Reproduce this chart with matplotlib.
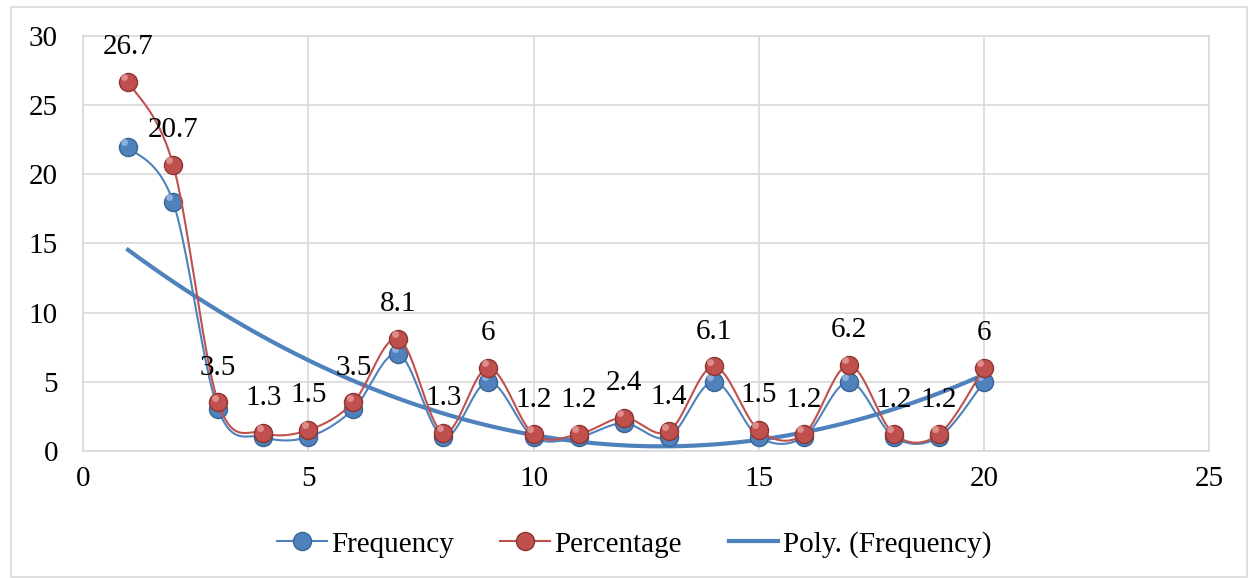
import numpy as np
import matplotlib.pyplot as plt
from matplotlib.patches import Rectangle

x = np.arange(1, 21)
frequency = [22, 18, 3, 1, 1, 3, 7, 1, 5, 1, 1, 2, 1, 5, 1, 1, 5, 1, 1, 5]
percentage = [26.7, 20.7, 3.5, 1.3, 1.5, 3.5, 8.1, 1.3, 6, 1.2, 1.2, 2.4, 1.4,
              6.1, 1.5, 1.2, 6.2, 1.2, 1.2, 6]
pct_labels = ["26.7", "20.7", "3.5", "1.3", "1.5", "3.5", "8.1", "1.3", "6", "1.2",
              "1.2", "2.4", "1.4", "6.1", "1.5", "1.2", "6.2", "1.2", "1.2", "6"]

BLUE = "#4F81BD"
RED = "#C0504D"


def smooth(xs, ys, n=40):
    # bezier smoothing like excel's "smoothed line"
    xs = np.asarray(xs, float)
    ys = np.asarray(ys, float)
    px = np.concatenate([[xs[0]], xs, [xs[-1]]])
    py = np.concatenate([[ys[0]], ys, [ys[-1]]])
    t = np.linspace(0, 1, n)
    outx, outy = [], []
    for i in range(1, len(px) - 2):
        p0x, p0y = px[i], py[i]
        p3x, p3y = px[i + 1], py[i + 1]
        c1x = p0x + (px[i + 1] - px[i - 1]) / 6
        c1y = p0y + (py[i + 1] - py[i - 1]) / 6
        c2x = p3x - (px[i + 2] - px[i]) / 6
        c2y = p3y - (py[i + 2] - py[i]) / 6
        bx = (1 - t) ** 3 * p0x + 3 * (1 - t) ** 2 * t * c1x + 3 * (1 - t) * t ** 2 * c2x + t ** 3 * p3x
        by = (1 - t) ** 3 * p0y + 3 * (1 - t) ** 2 * t * c1y + 3 * (1 - t) * t ** 2 * c2y + t ** 3 * p3y
        outx.extend(bx)
        outy.extend(by)
    return np.array(outx), np.array(outy)


plt.rcParams['font.family'] = ['Liberation Serif', 'DejaVu Serif']
FS = 21

fig = plt.figure(figsize=(12.48, 5.78), dpi=100)
ax = fig.add_axes([0.0665, 0.22, 0.9025, 0.7177])

fig.patches.append(Rectangle((11 / 1248, 1 / 578), 1 - 12 / 1248, 1 - 8 / 578,
                             transform=fig.transFigure, fill=False,
                             edgecolor="#D9D9D9", lw=1.2))

# trendline (2nd order polynomial of frequency)
coef = np.polyfit(x, frequency, 2)
tx = np.linspace(1, 20, 200)
ax.plot(tx, np.polyval(coef, tx), color=BLUE, lw=3, zorder=2,
        label="Poly. (Frequency)")

fx, fy = smooth(x, frequency)
ax.plot(fx, fy, color=BLUE, lw=1.5, zorder=3)
ax.plot(x, frequency, 'o', ms=13, mfc=BLUE, mec="#3A6496", mew=1, zorder=4)
ax.plot(x - 0.08, np.array(frequency) + 0.35, 'o', ms=5, mfc="#A9C4E8", mec="none",
        alpha=0.7, zorder=4)

px_, py_ = smooth(x, percentage)
ax.plot(px_, py_, color=RED, lw=1.5, zorder=5)
ax.plot(x, percentage, 'o', ms=13, mfc=RED, mec="#8E3532", mew=1, zorder=6)
ax.plot(x - 0.08, np.array(percentage) + 0.35, 'o', ms=5, mfc="#EBA8A5", mec="none",
        alpha=0.7, zorder=6)

for xi, yi, lab in zip(x, percentage, pct_labels):
    ax.annotate(lab, (xi, yi), xytext=(0, 25), textcoords="offset points",
                ha="center", va="center", fontsize=FS, zorder=7)

ax.set_xlim(0, 25)
ax.set_ylim(0, 30)
ax.set_xticks(range(0, 26, 5))
ax.set_yticks(range(0, 31, 5))
ax.grid(True, color="#D9D9D9", lw=1.2)
ax.set_axisbelow(True)
for s in ax.spines.values():
    s.set_color("#D9D9D9")
    s.set_linewidth(1.2)
ax.tick_params(length=0, labelsize=FS)
ax.tick_params(axis='x', pad=11)
ax.tick_params(axis='y', pad=18)

h1 = plt.Line2D([], [], color=BLUE, lw=1.5, marker='o', ms=13, mfc=BLUE, mec="#3A6496")
h2 = plt.Line2D([], [], color=RED, lw=1.5, marker='o', ms=13, mfc=RED, mec="#8E3532")
h3 = plt.Line2D([], [], color=BLUE, lw=3)
fig.legend([h1, h2, h3], ["Frequency", "Percentage", "Poly. (Frequency)"],
           loc="center", bbox_to_anchor=(0.508, 0.058), ncol=3, frameon=False,
           fontsize=FS, handlelength=1.7, handletextpad=0.15, columnspacing=1.6)

fig.savefig("out.png", dpi=100)
